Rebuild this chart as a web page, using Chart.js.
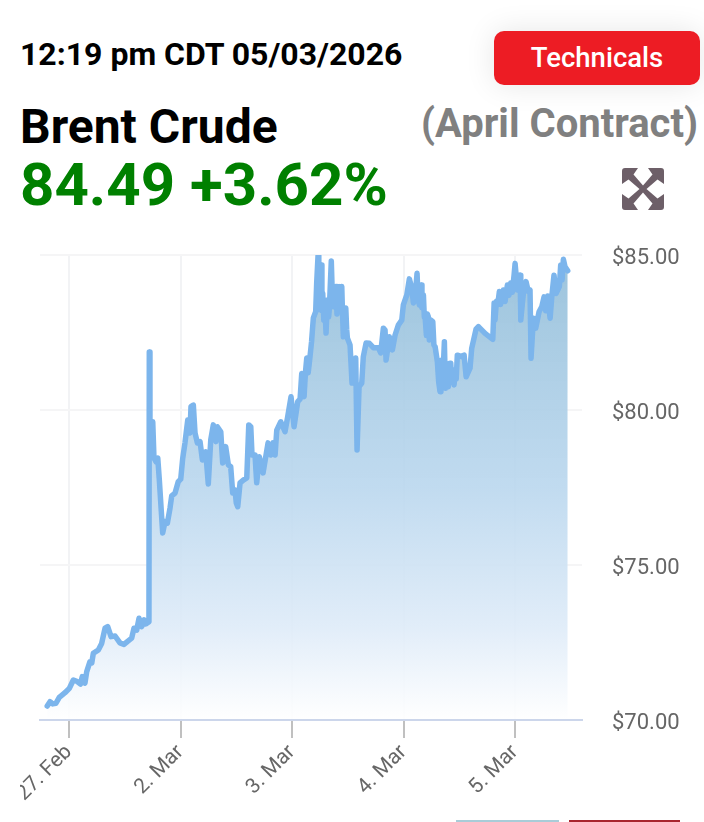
<!DOCTYPE html>
<html>
<head>
<meta charset="utf-8">
<title>Brent Crude</title>
<script src="https://cdn.jsdelivr.net/npm/chart.js@4"></script>
<style>
  html, body { margin: 0; padding: 0; background: #fff; overflow: hidden; }
  body { width: 704px; height: 822px; position: relative; font-family: Roboto, sans-serif; }
  .txt { position: absolute; white-space: nowrap; font-weight: 700; line-height: 1; }
  #stamp { left: 20px; top: 38px; font-size: 32px; color: #000; }
  #name { left: 20px; top: 103px; font-size: 48px; color: #000; }
  #contract { right: 6px; top: 104px; font-size: 40px; color: #808080; }
  #quote { left: 20px; top: 155px; font-size: 60px; color: #008000; }
  #techBtn {
    position: absolute; left: 494px; top: 31px; width: 206px; height: 54px;
    background: #ed1c24; color: #fff; border-radius: 10px; font-weight: 500;
    font-size: 27.500px; line-height: 54px; text-align: center;
    box-shadow: 0 0 30px rgba(0,0,0,0.1);
  }
  #expand { position: absolute; left: 622px; top: 168px; }
  #myChart { position: absolute; left: 20px; top: 235px; }
  .stub { position: absolute; top: 820px; height: 2px; }
</style>
</head>
<body>
<div class="txt" id="stamp">12:19 pm CDT 05/03/2026</div>
<div id="techBtn">Technicals</div>
<div class="txt" id="name">Brent Crude</div>
<div class="txt" id="contract">(April Contract)</div>
<div class="txt" id="quote">84.49 +3.62%</div>
<svg id="expand" width="42" height="42" viewBox="0 0 42 42">
  <path fill="#6d5f68" d="M3 0H16L11.500 6.500 21 17.500 30.500 6.500 26 0H39Q42 0 42 3V16L35.500 11.500 24.500 21 35.500 30.500 42 26V39Q42 42 39 42H26L30.500 35.500 21 24.500 11.500 35.500 16 42H3Q0 42 0 39V26L6.500 30.500 17.500 21 6.500 11.500 0 16V3Q0 0 3 0Z"/>
</svg>
<canvas id="myChart" width="684" height="580"></canvas>
<div class="stub" style="left:456px;width:103px;background:#a9ccd8"></div>
<div class="stub" style="left:569px;width:111px;background:#a8262f"></div>

<script>
// days since 27 Feb, counted on the chart's trading-time axis
const times = [-0.195, -0.170, -0.146, -0.117, -0.087, -0.036, 0.003, 0.039, 0.074, 0.103, 0.119, 0.143, 0.159, 0.188, 0.204, 0.218, 0.263, 0.293, 0.323, 0.347, 0.377, 0.413, 0.457, 0.493, 0.523, 0.562, 0.583, 0.607, 0.628, 0.652, 0.673, 0.691, 0.717,
  0.720, 0.726, 0.751, 0.762, 0.780, 0.796, 0.810, 0.840, 0.861, 0.882, 0.906, 0.921, 0.951, 0.980, 1.002, 1.020, 1.040, 1.065, 1.085, 1.094, 1.115, 1.130, 1.151, 1.175, 1.196, 1.226, 1.249, 1.271, 1.294, 1.318, 1.330, 1.361, 1.378, 1.405, 1.429, 1.450, 1.468, 1.489, 1.500, 1.513, 1.534, 1.563, 1.594, 1.612, 1.630, 1.641, 1.668, 1.683, 1.707, 1.740, 1.785, 1.809, 1.830, 1.848, 1.863, 1.899, 1.937, 1.961, 1.991,
  2.018, 2.051, 2.072, 2.087, 2.095, 2.108, 2.120, 2.132, 2.145, 2.161, 2.175, 2.191, 2.212, 2.221, 2.233, 2.240, 2.251, 2.256, 2.260, 2.268, 2.275, 2.285, 2.295, 2.305, 2.317, 2.328, 2.335, 2.345, 2.352, 2.362, 2.370, 2.380, 2.395, 2.403, 2.410, 2.424, 2.435, 2.446, 2.452, 2.460, 2.470, 2.482, 2.490, 2.496, 2.520, 2.538, 2.571, 2.583, 2.601, 2.625, 2.639, 2.664, 2.693, 2.729, 2.774, 2.795, 2.819, 2.834, 2.843, 2.873, 2.900, 2.924, 2.953, 2.984,
  2.998, 3.029, 3.052, 3.074, 3.088, 3.103, 3.121, 3.130, 3.142, 3.150, 3.157, 3.165, 3.178, 3.186, 3.193, 3.205, 3.213, 3.222, 3.231, 3.245, 3.262, 3.272, 3.283, 3.303, 3.315, 3.327, 3.335, 3.342, 3.350, 3.358, 3.366, 3.375, 3.385, 3.395, 3.402, 3.410, 3.423, 3.432, 3.443, 3.453, 3.462, 3.472, 3.482, 3.522, 3.543, 3.561, 3.596, 3.611, 3.650, 3.671, 3.731, 3.800, 3.812, 3.820, 3.832, 3.850, 3.859, 3.870, 3.895, 3.910, 3.931, 3.945, 3.961, 3.975, 3.991,
  4.000, 4.021, 4.045, 4.051, 4.074, 4.098, 4.119, 4.134, 4.143, 4.164, 4.185, 4.215, 4.239, 4.260, 4.275, 4.293, 4.314, 4.329, 4.349, 4.367, 4.397, 4.409, 4.421, 4.433, 4.448, 4.472];

const prices = [70.45, 70.59, 70.52, 70.54, 70.73, 70.88, 71.02, 71.29, 71.24, 71.16, 71.40, 71.19, 71.56, 71.88, 71.84, 72.15, 72.26, 72.47, 72.96, 73.01, 72.69, 72.71, 72.49, 72.44, 72.53, 72.64, 72.96, 72.90, 73.28, 73.01, 73.23, 73.10, 73.17,
  81.87, 78.71, 79.62, 78.45, 78.33, 78.45, 77.74, 76.03, 76.40, 76.35, 76.84, 77.23, 77.32, 77.69, 77.77, 78.45, 78.94, 79.68, 79.26, 80.11, 80.16, 79.26, 78.94, 78.98, 78.39, 78.65, 77.61, 79.03, 79.52, 78.98, 79.46, 79.30, 78.29, 78.82, 78.23, 78.17, 77.32, 77.42, 77.00, 76.88, 77.65, 77.74, 77.81, 79.52, 79.46, 78.55, 78.55, 77.65, 78.49, 77.97, 78.94, 78.55, 78.94, 78.55, 79.35, 79.62, 79.30, 79.78, 80.43,
  79.46, 80.27, 80.35, 81.18, 80.60, 80.43, 81.20, 81.68, 81.20, 81.72, 82.20, 82.97, 83.17, 84.10, 84.97, 83.40, 83.23, 84.30, 84.68, 83.20, 83.77, 82.90, 83.30, 82.48, 83.55, 83.00, 83.29, 84.20, 84.81, 83.60, 83.33, 83.90, 83.98, 83.10, 83.33, 83.98, 83.30, 83.98, 83.20, 82.36, 83.20, 83.29, 82.60, 82.32, 82.10, 80.87, 81.68, 78.71, 80.75, 80.87, 81.72, 82.16, 82.15, 82.01, 82.01, 81.84, 82.64, 82.58, 81.61, 82.36, 81.94, 82.42, 82.74, 82.90,
  83.39, 83.71, 84.23, 83.93, 83.45, 83.61, 84.41, 83.60, 83.39, 83.90, 84.03, 83.30, 83.71, 83.00, 83.01, 82.40, 83.10, 83.01, 82.26, 82.90, 82.85, 82.10, 82.04, 81.56, 80.90, 80.59, 81.30, 81.61, 80.90, 81.50, 82.20, 80.70, 81.40, 80.90, 80.75, 81.50, 81.51, 80.90, 81.30, 80.81, 81.30, 81.00, 81.77, 81.72, 81.77, 81.07, 81.35, 81.99, 82.61, 82.69, 82.47, 82.28, 83.45, 82.90, 83.50, 83.55, 83.82, 83.40, 83.87, 83.50, 84.03, 83.70, 84.10, 83.80, 84.35,
  84.73, 83.87, 84.35, 82.90, 83.76, 84.14, 83.82, 83.87, 81.67, 82.96, 82.64, 83.17, 83.33, 83.65, 83.20, 83.68, 82.96, 83.65, 84.35, 83.76, 83.98, 84.68, 84.19, 84.86, 84.62, 84.49];

const xTickDays = [0, 1, 2, 3, 4];
const xTickLabels = ["27. Feb", "2. Mar", "3. Mar", "4. Mar", "5. Mar"];
const yTickValues = [70, 75, 80, 85];
const yTickLabels = ["$70.00", "$75.00", "$80.00", "$85.00"];

const points = times.map(function (t, i) { return { x: t, y: prices[i] }; });

// area fill fades out to white at the axis
function areaGradient(context) {
  const area = context.chart.chartArea;
  if (!area) return "rgba(124,181,236,0.3)";
  const g = context.chart.ctx.createLinearGradient(0, area.top, 0, area.bottom);
  g.addColorStop(0, "rgba(150,192,218,0.95)");
  g.addColorStop(0.5, "rgba(186,215,238,0.9)");
  g.addColorStop(0.8, "rgba(222,235,248,0.9)");
  g.addColorStop(1, "rgba(255,255,255,0.9)");
  return g;
}

// y labels sit a little below their grid lines, which ticks options can't do
const yLabelsPlugin = {
  id: "yLabels",
  afterDraw: function (chart) {
    const ctx = chart.ctx;
    const y = chart.scales.y;
    ctx.save();
    ctx.font = "22px Roboto";
    ctx.fillStyle = "#666";
    ctx.textAlign = "left";
    ctx.textBaseline = "middle";
    yTickValues.forEach(function (v, i) {
      ctx.fillText(yTickLabels[i], y.left + 30, y.getPixelForValue(v) + 3);
    });
    ctx.restore();
  },
};

new Chart(document.getElementById("myChart"), {
  type: "line",
  data: {
    datasets: [
      {
        data: points,
        borderColor: "#7cb5ec",
        borderWidth: 5.5,
        borderJoinStyle: "round",
        borderCapStyle: "round",
        backgroundColor: areaGradient,
        fill: "start",
        tension: 0,
        pointRadius: 0,
        clip: 0,
      },
    ],
  },
  plugins: [yLabelsPlugin],
  options: {
    responsive: false,
    animation: false,
    layout: { padding: { left: 20, top: 20, right: 0, bottom: 0 } },
    plugins: { legend: { display: false }, tooltip: { enabled: false } },
    scales: {
      x: {
        type: "linear",
        min: -0.26,
        max: 4.6,
        afterBuildTicks: function (scale) {
          scale.ticks = xTickDays.map(function (v) { return { value: v }; });
        },
        afterFit: function (scale) {
          scale.height = 95;
          scale.paddingLeft = 0;
          scale.paddingRight = 0;
        },
        grid: { color: "#f2f3f5", lineWidth: 2, tickColor: "#c0c0c0", tickLength: 18 },
        border: { color: "#ccd6eb", width: 2, z: 1 },
        ticks: {
          autoSkip: false,
          minRotation: 45,
          maxRotation: 45,
          padding: 2,
          color: "#666",
          font: { family: "Roboto", size: 21 },
          callback: function (value) { return xTickLabels[xTickDays.indexOf(value)]; },
        },
      },
      y: {
        position: "right",
        min: 70,
        max: 85,
        afterBuildTicks: function (scale) {
          scale.ticks = yTickValues.map(function (v) { return { value: v }; });
        },
        afterFit: function (scale) {
          scale.width = 122;
          scale.paddingTop = 0;
          scale.paddingBottom = 0;
        },
        grid: {
          // the bottom one is the x axis line, don't paint over it
          color: function (c) { return c.tick && c.tick.value === 70 ? "rgba(0,0,0,0)" : "#f5f5f6"; },
          lineWidth: 2,
          drawTicks: false,
        },
        border: { display: false },
        ticks: { display: false },
      },
    },
  },
});
</script>
</body>
</html>
